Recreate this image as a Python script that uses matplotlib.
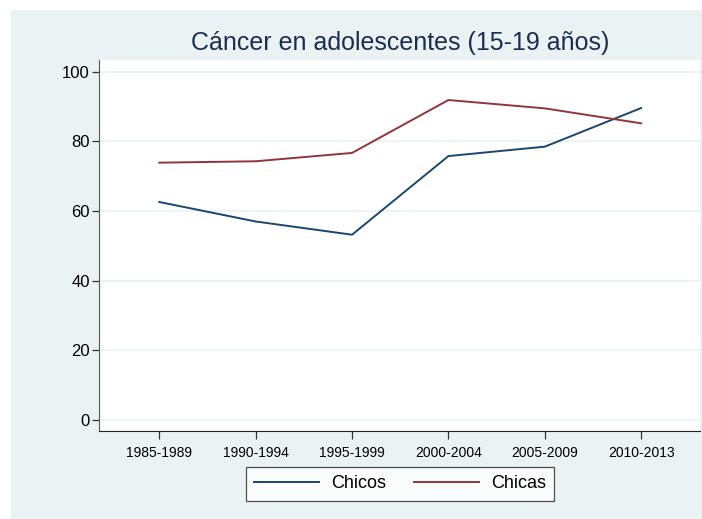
import matplotlib
matplotlib.use("Agg")
import matplotlib.pyplot as plt
from matplotlib.patches import Rectangle
from matplotlib.lines import Line2D

periods = ["1985-1989", "1990-1994", "1995-1999", "2000-2004", "2005-2009", "2010-2013"]
chicos = [62.6, 57.0, 53.2, 75.8, 78.5, 89.6]
chicas = [73.9, 74.3, 76.7, 91.9, 89.5, 85.2]
yticks = [0, 20, 40, 60, 80, 100]

plt.rcParams['font.family'] = ['Liberation Sans', 'DejaVu Sans']
BG = "#EAF2F3"
C_BOY = "#1a476f"
C_GIRL = "#90353b"

fig = plt.figure(figsize=(7.02, 5.19), dpi=100)
fig.patch.set_facecolor("white")
fig.add_artist(Rectangle((11 / 702, -0.01), 1.02 - 11 / 702, 1.01 - 10 / 519,
                         transform=fig.transFigure, facecolor=BG, edgecolor="none", zorder=-10))

ax = fig.add_axes([99.5 / 702, 1 - 431 / 519, (700 - 99.5) / 702, (431 - 60) / 519])
ax.set_facecolor("white")
x = list(range(1, len(periods) + 1))
ax.plot(x, chicos, color=C_BOY, lw=1.4, label="Chicos")
ax.plot(x, chicas, color=C_GIRL, lw=1.4, label="Chicas")

ax.set_xlim(0.38, 6.61)
ax.set_ylim(-3.2, 103.4)
ax.set_xticks(x)
ax.set_xticklabels(periods, fontsize=10)
ax.set_yticks(yticks)
ax.set_yticklabels([str(v) for v in yticks], fontsize=12)
ax.grid(axis="y", color=BG, lw=1.2)
ax.set_axisbelow(True)
for s in ["top", "right"]:
    ax.spines[s].set_visible(False)
ax.spines["left"].set_color("#555555")
ax.spines["bottom"].set_color("#222222")
ax.tick_params(axis="y", length=5, width=0.9, color="#333333", pad=2)
ax.tick_params(axis="x", length=6, width=0.9, color="#333333", pad=5)

fig.text((99.5 + 700) / 2 / 702, 1 - 43 / 519, "Cáncer en adolescentes (15-19 años)",
         ha="center", va="center", fontsize=18, color="#1c2e4f")

handles = [Line2D([], [], color=C_BOY, lw=1.4), Line2D([], [], color=C_GIRL, lw=1.4)]
leg = fig.legend(handles, ["Chicos", "Chicas"], loc="center", ncol=2,
                 bbox_to_anchor=(400 / 702, 1 - 484 / 519), fontsize=13,
                 frameon=True, fancybox=False, handlelength=3.6, columnspacing=1.5,
                 handletextpad=0.7, borderpad=0.45, borderaxespad=0)
leg.get_frame().set_edgecolor("#222222")
leg.get_frame().set_linewidth(0.9)
leg.get_frame().set_facecolor("white")

fig.savefig("out.png", dpi=100)
